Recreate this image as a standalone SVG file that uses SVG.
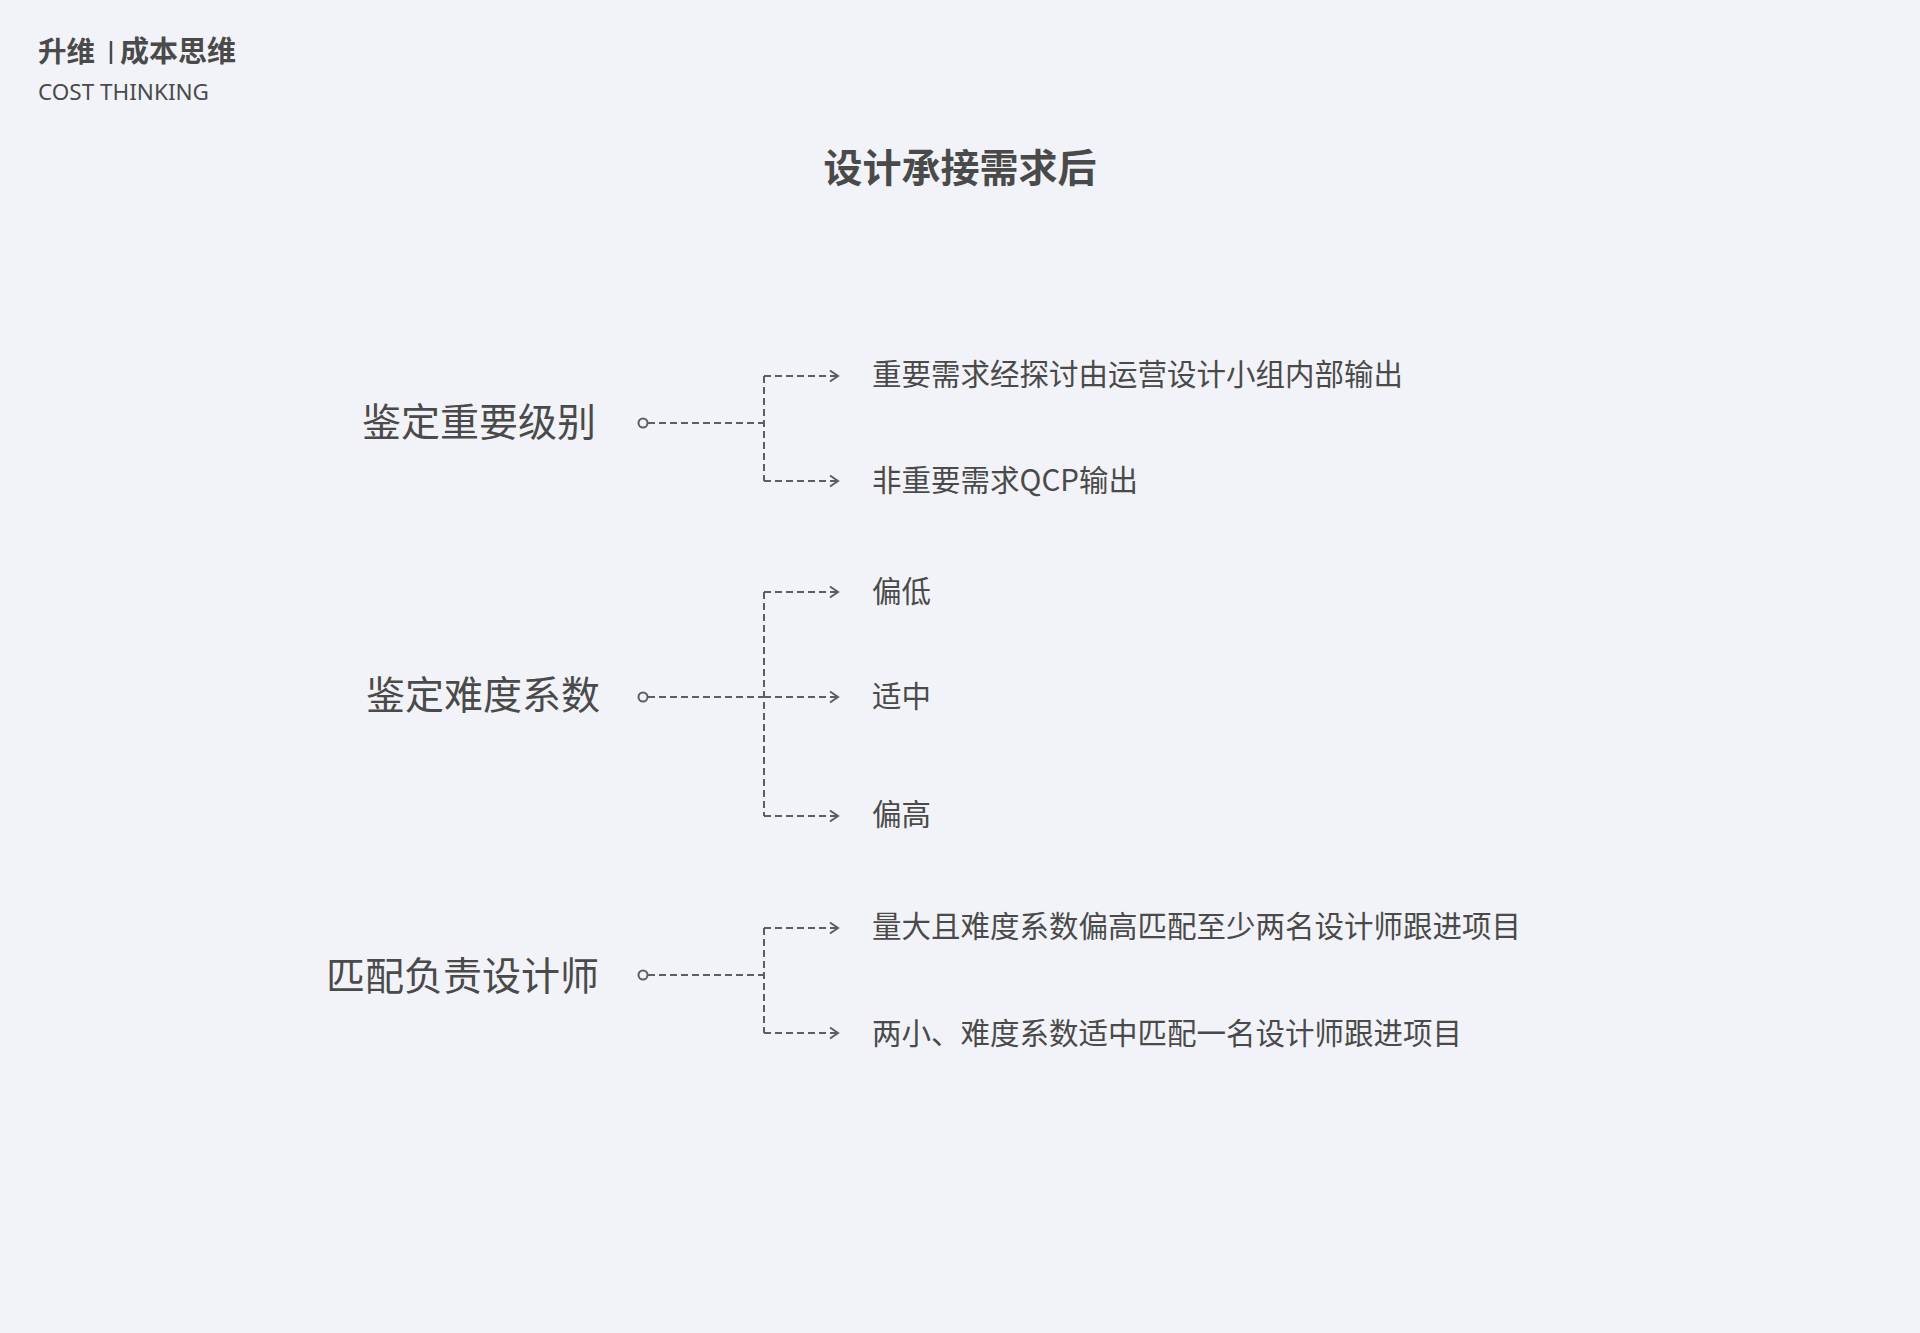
<svg xmlns="http://www.w3.org/2000/svg" width="1920" height="1333" viewBox="0 0 1920 1333">
<defs>
<style>
.cjk{font-family:"Noto Sans CJK SC","Noto Sans",sans-serif;fill:#4a4a4a;}
.lbl{font-size:39px;}
.item{font-size:29.5px;}
.conn{fill:none;stroke:#5e5e5e;stroke-width:2;stroke-dasharray:7 4;}
.dot{fill:#f2f3f8;stroke:#5e5e5e;stroke-width:2;}
</style>
<marker id="arr" viewBox="0 0 12 14" refX="10" refY="7" markerWidth="12" markerHeight="14" markerUnits="userSpaceOnUse" orient="auto">
<path d="M2,1.5 L10,7 L2,12.5" fill="none" stroke="#5e5e5e" stroke-width="2" stroke-dasharray="none"/>
</marker>
</defs>
<rect width="1920" height="1333" fill="#f2f3f8"/>

<g id="header">
<text class="cjk" x="38" y="62" font-size="28.5" font-weight="700">升维</text>
<line x1="111" y1="41" x2="111" y2="64" stroke="#4a4a4a" stroke-width="2.5"/>
<text class="cjk" x="120" y="62" font-size="29" font-weight="700">成本思维</text>
<text x="38" y="100" font-family="Noto Sans, sans-serif" font-size="22.5" fill="#4a4a4a">COST THINKING</text>
</g>

<g id="title">
<text class="cjk" x="960" y="182" font-size="39" font-weight="700" text-anchor="middle">设计承接需求后</text>
</g>

<g id="connectors">
<path class="conn" d="M648,423 H764"/>
<path class="conn" d="M764,376 V481"/>
<path class="conn" d="M764,376 H838" marker-end="url(#arr)"/>
<path class="conn" d="M764,481 H838" marker-end="url(#arr)"/>

<path class="conn" d="M648,697 H764"/>
<path class="conn" d="M764,592 V816"/>
<path class="conn" d="M764,592 H838" marker-end="url(#arr)"/>
<path class="conn" d="M764,697 H838" marker-end="url(#arr)"/>
<path class="conn" d="M764,816 H838" marker-end="url(#arr)"/>

<path class="conn" d="M648,975 H764"/>
<path class="conn" d="M764,928 V1033"/>
<path class="conn" d="M764,928 H838" marker-end="url(#arr)"/>
<path class="conn" d="M764,1033 H838" marker-end="url(#arr)"/>

<circle class="dot" cx="643" cy="423" r="4.5"/>
<circle class="dot" cx="643" cy="697" r="4.5"/>
<circle class="dot" cx="643" cy="975" r="4.5"/>
</g>

<g id="node-importance">
<text class="cjk lbl" x="362" y="419" dominant-baseline="central">鉴定重要级别</text>
</g>
<g id="node-difficulty">
<text class="cjk lbl" x="366" y="692" dominant-baseline="central">鉴定难度系数</text>
</g>
<g id="node-designer">
<text class="cjk lbl" x="326" y="973" dominant-baseline="central">匹配负责设计师</text>
</g>

<g id="item-1a"><text class="cjk item" x="872" y="372" dominant-baseline="central">重要需求经探讨由运营设计小组内部输出</text></g>
<g id="item-1b"><text class="cjk item" x="872" y="478" dominant-baseline="central">非重要需求QCP输出</text></g>
<g id="item-2a"><text class="cjk item" x="872" y="589" dominant-baseline="central">偏低</text></g>
<g id="item-2b"><text class="cjk item" x="872" y="694" dominant-baseline="central">适中</text></g>
<g id="item-2c"><text class="cjk item" x="872" y="812" dominant-baseline="central">偏高</text></g>
<g id="item-3a"><text class="cjk item" x="872" y="924" dominant-baseline="central">量大且难度系数偏高匹配至少两名设计师跟进项目</text></g>
<g id="item-3b"><text class="cjk item" x="872" y="1031" dominant-baseline="central">两小、难度系数适中匹配一名设计师跟进项目</text></g>
</svg>
